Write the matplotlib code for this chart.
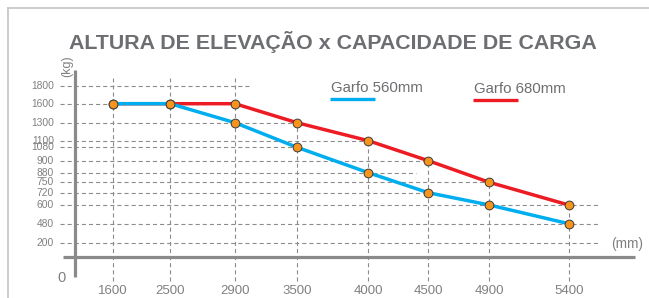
import numpy as np
import matplotlib.pyplot as plt

plt.rcParams['font.family'] = ['Liberation Sans', 'DejaVu Sans']

W, H = 649, 298

# dados
alturas = [1600, 2500, 2900, 3500, 4000, 4500, 4900, 5400]
garfo_560 = [1600, 1600, 1300, 1080, 880, 720, 600, 480]
garfo_680 = [1600, 1600, 1600, 1300, 1100, 900, 750, 600]
y_ticks = [1800, 1600, 1300, 1100, 1080, 900, 880, 750, 720, 600, 480, 200]
# ate onde vai cada linha horizontal tracejada (valor de x)
grid_fim = [3060, 2900, 3500, 4000, 3500, 4500, 4400, 4900, 4500, 5600, 5600, 5600]

# escala irregular do desenho original (pixels)
x_px = [112.7, 170.3, 235, 297, 368.3, 428.3, 489.3, 568.7]
y_px = [85.7, 103.7, 122.7, 140.7, 147.3, 160.7, 172.7, 182.3, 192.7, 205, 223.7, 243]

AZUL = '#00aeef'
VERM = '#ed1c24'
LARANJA = '#f7941d'
CINZA = '#808080'
GRADE = '#8c8c8c'


def make_map(vals, pix):
    v = np.array(vals, float)
    p = np.array(pix, float)
    o = np.argsort(v)
    v, p = v[o], p[o]
    s0 = (p[1] - p[0]) / (v[1] - v[0])
    s1 = (p[-1] - p[-2]) / (v[-1] - v[-2])
    big = 1e5
    v2 = np.r_[v[0] - big, v, v[-1] + big]
    p2 = np.r_[p[0] - big * s0, p, p[-1] + big * s1]
    fwd = lambda x: np.interp(x, v2, p2)
    inv = lambda q: np.interp(q, p2, v2)
    return fwd, inv


fx, ix = make_map(alturas, x_px)
fy, iy = make_map(y_ticks, [H - p for p in y_px])

fig = plt.figure(figsize=(W / 100, H / 100), dpi=100)
ax = fig.add_axes([0, 0, 1, 1])
ax.set_xscale('function', functions=(fx, ix))
ax.set_yscale('function', functions=(fy, iy))
ax.set_xlim(ix(0), ix(W))
ax.set_ylim(iy(0), iy(H))
ax.axis('off')


def P(x, y):
    # pixel -> fracao dos eixos
    return x / W, 1 - y / H


TA = ax.transAxes

# moldura
ax.plot([8 / W, 1], [1 - 8 / H] * 2, color='#c4c4c4', lw=1.2, transform=TA, clip_on=False)
ax.plot([8 / W] * 2, [0, 1 - 8 / H], color='#c4c4c4', lw=1.2, transform=TA, clip_on=False)

# titulo
ax.text(*P(333, 42), 'ALTURA DE ELEVAÇÃO x CAPACIDADE DE CARGA', transform=TA,
        ha='center', va='center', fontsize=15.4, fontweight='bold', color='#6d6e71')

dash = dict(color=GRADE, lw=0.8, dashes=(3.7, 2.7))
x0 = ix(60)
# linhas horizontais
for v, fim in zip(y_ticks, grid_fim):
    ax.plot([x0, fim], [v, v], **dash)
    ax.text(54 / W, v, str(v), transform=ax.get_yaxis_transform(), ha='right',
            va='center', fontsize=7.4, color=CINZA)

# linhas verticais
y_base = iy(H - 281)
for a, v in zip(alturas, garfo_680):
    topo = 1890 if v >= 1600 else v
    ax.plot([a, a], [y_base, topo], **dash)
    ax.text(a, 1 - 291 / H, str(a), transform=ax.get_xaxis_transform(), ha='center',
            va='center', fontsize=9.5, color=CINZA)

# eixos
ax.plot([ix(75)] * 2, [iy(H - 70), iy(H - 277)], color='#8a8a8a', lw=2.3, solid_capstyle='butt')
ax.plot([ix(63), ix(635)], [0, 0], color='#8a8a8a', lw=2.3, solid_capstyle='butt')

ax.text(*P(67, 66), '(kg)', transform=TA, rotation=90, ha='center', va='center',
        fontsize=9, color=CINZA)
ax.text(*P(62, 278), '0', transform=TA, ha='center', va='center', fontsize=10.5, color=CINZA)
ax.text(*P(627, 244), '(mm)', transform=TA, ha='center', va='center', fontsize=9.8, color=CINZA)

# series
mk = dict(marker='o', markersize=6.3, markerfacecolor=LARANJA, markeredgecolor='#3a3a3a',
          markeredgewidth=0.7)
ax.plot(alturas, garfo_680, color=VERM, lw=2.5, **mk)
ax.plot(alturas, garfo_560, color=AZUL, lw=2.5, **mk)

# legenda
ax.text(*P(331, 88), 'Garfo 560mm', transform=TA, ha='left', va='center', fontsize=10.8, color='#6d6e71')
ax.plot([330 / W, 375 / W], [1 - 99.5 / H] * 2, color=AZUL, lw=2.4, transform=TA, solid_capstyle='butt')
ax.text(*P(474, 89), 'Garfo 680mm', transform=TA, ha='left', va='center', fontsize=10.8, color='#6d6e71')
ax.plot([473 / W, 518 / W], [1 - 100 / H] * 2, color=VERM, lw=2.4, transform=TA, solid_capstyle='butt')

plt.savefig('out.png', dpi=100)
